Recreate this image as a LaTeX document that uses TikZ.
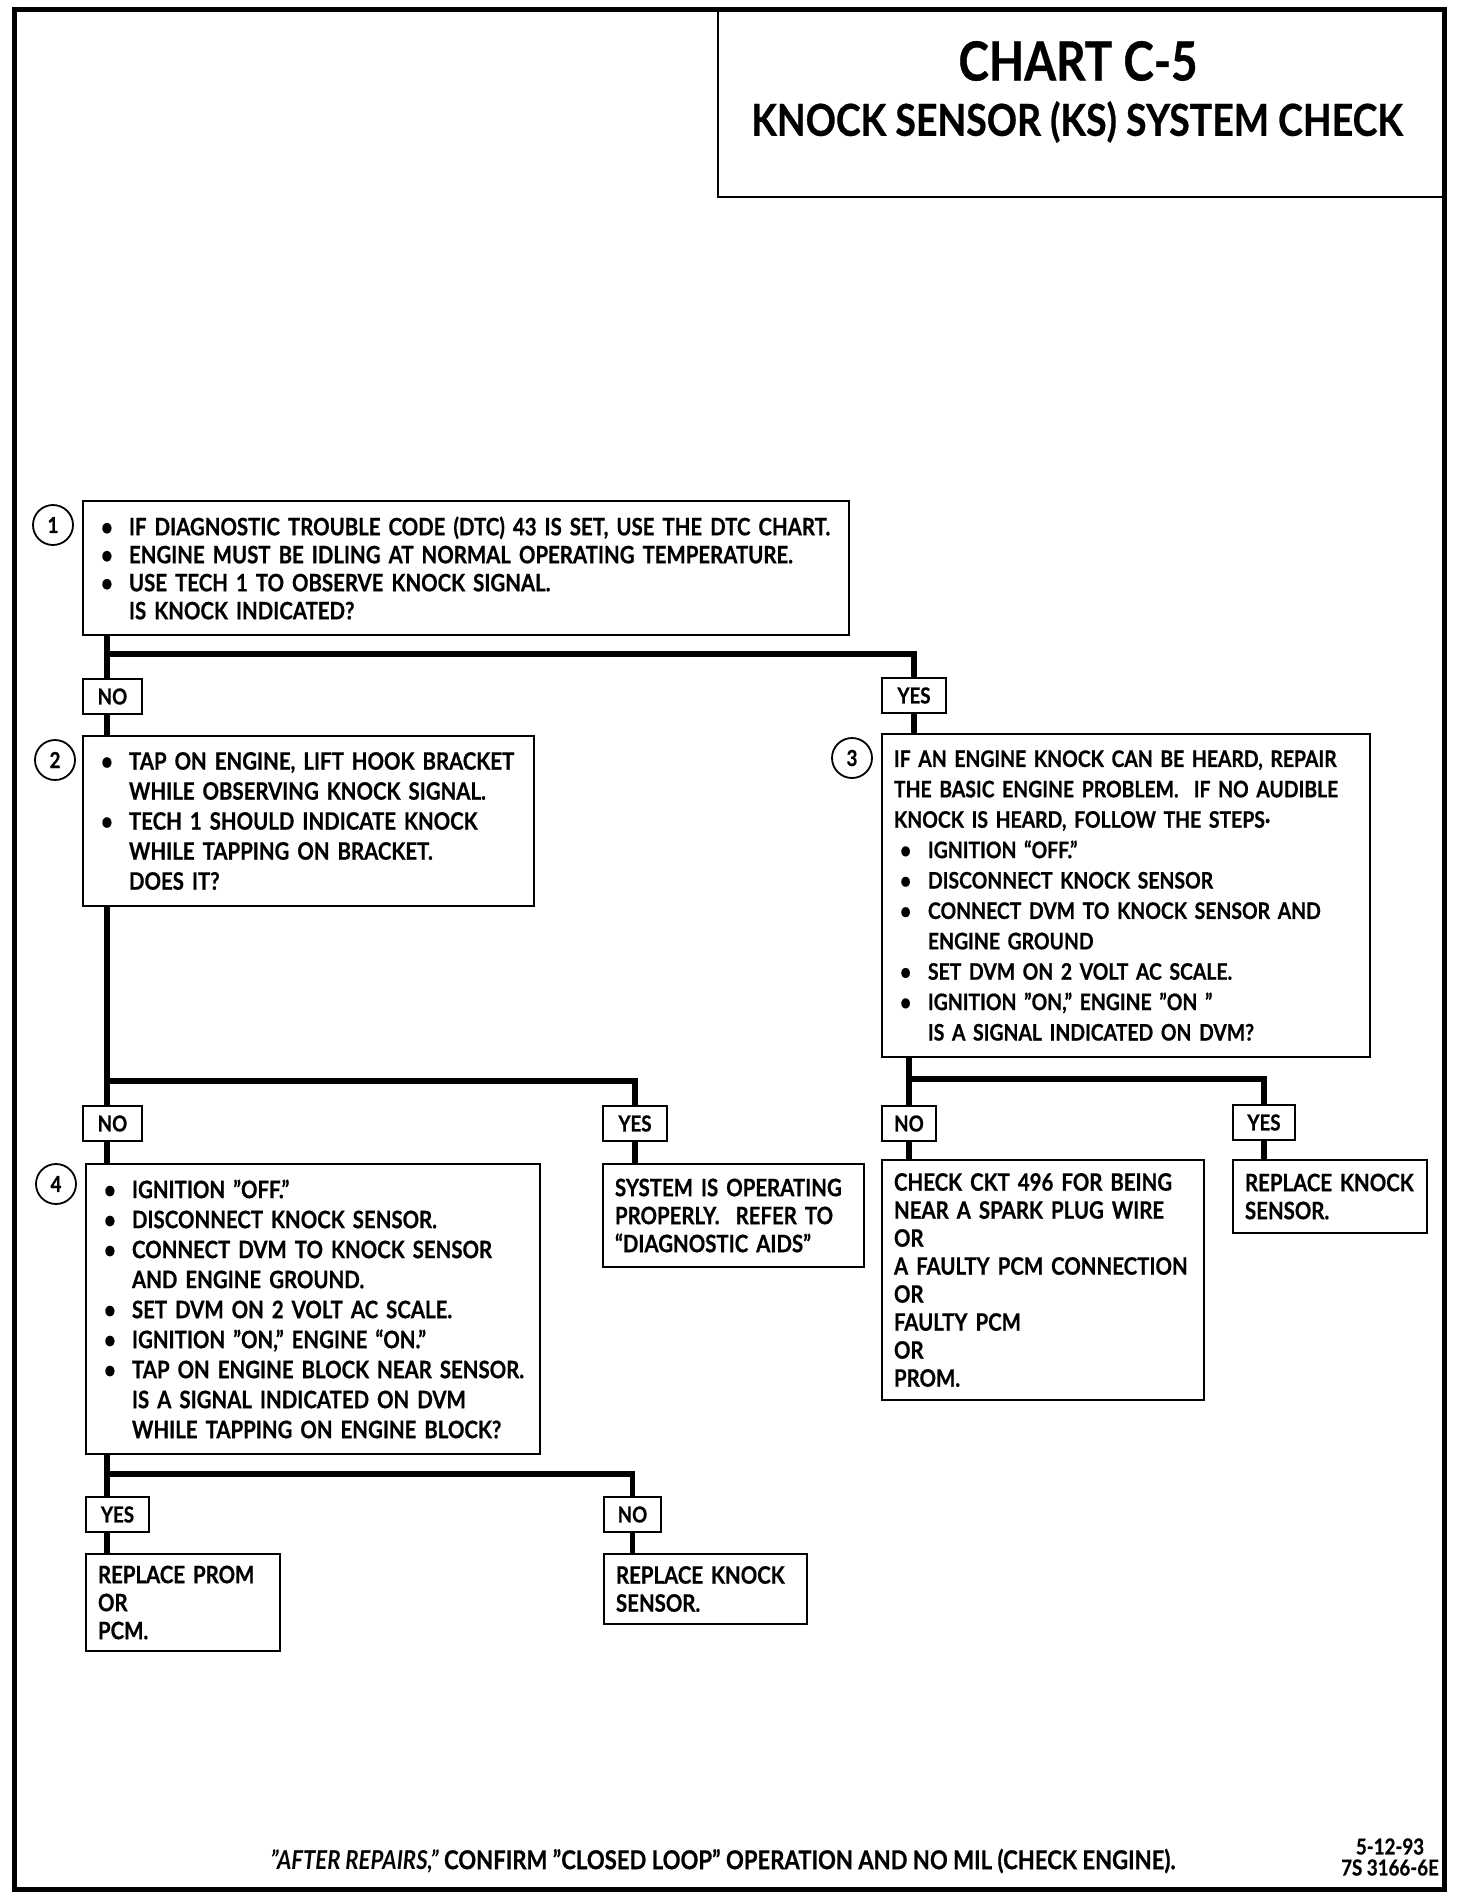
\documentclass[tikz,border=0pt]{standalone}
\usepackage{fontspec}
\setmainfont{Lato}[FakeStretch=0.85, BoldFeatures={FakeBold=0.6}]
\newcommand\bul{\makebox[17pt][l]{\hspace{3pt}\textbullet}}
\newcommand\ind{\hspace*{17pt}}
\newcommand\boxfont{\fontsize{12}{15}\selectfont\bfseries\hyphenpenalty=10000 }
\newcommand\tightfont{\fontsize{12}{14}\selectfont\bfseries\hyphenpenalty=10000 }
\newcommand\threefont{\fontsize{11.4}{15.2}\selectfont\bfseries\hyphenpenalty=10000 }
\tikzset{
  box/.style={draw, line width=1pt, anchor=north west, inner xsep=6pt, inner ysep=0pt, align=left, font=\boxfont},
  tbox/.style={box, font=\tightfont},
  lab/.style={draw, line width=1pt, anchor=north west, inner sep=0pt, minimum height=17.5pt, font=\fontsize{11}{12}\selectfont\bfseries},
  conn/.style={line width=2.8pt, line join=miter},
  num/.style={draw, circle, line width=0.9pt, minimum size=20pt, inner sep=0pt, font=\fontsize{11}{12}\selectfont\bfseries},
}
\begin{document}
\begin{tikzpicture}[x=0.5pt, y=-0.5pt]
\useasboundingbox (0,0) rectangle (1472,1900);
% outer frame
\draw[line width=2.5pt] (14,10) rectangle (1444,1889);
% title
\node[draw, line width=1.2pt, anchor=north west, minimum width=363.5pt, minimum height=93pt, inner sep=0pt] (tb) at (717,10) {};
\node[font=\fontsize{27}{30}\selectfont\bfseries] (t1) at (1078,61) {CHART C-5};
\node[font=\fontsize{22}{26}\selectfont\bfseries] (t2) at (1077,122) {KNOCK SENSOR (KS) SYSTEM CHECK};

% step 1
\node[box, font=\tightfont, text width=371pt, minimum height=67pt] (b1) at (82,500) {%
\bul IF DIAGNOSTIC TROUBLE CODE (DTC) 43 IS SET, USE THE DTC CHART.\\
\bul ENGINE MUST BE IDLING AT NORMAL OPERATING TEMPERATURE.\\
\bul USE TECH 1 TO OBSERVE KNOCK SIGNAL.\\
\ind IS KNOCK INDICATED?};
\node[num] (c1) at (53,525) {1};

\coordinate (j1) at (0,654);
\node[lab, minimum width=29.5pt] (no1) at (82,678) {NO};
\node[lab, minimum width=32pt] (yes1) at (881,677) {YES};

% step 2
\node[box, text width=213.5pt, minimum height=85pt] (b2) at (82,735) {%
\bul TAP ON ENGINE, LIFT HOOK BRACKET\\
\ind WHILE OBSERVING KNOCK SIGNAL.\\
\bul TECH 1 SHOULD INDICATE KNOCK\\
\ind WHILE TAPPING ON BRACKET.\\
\ind DOES IT?};
\node[num] (c2) at (55,760) {2};

% step 3
\node[box, font=\threefont, text width=232pt, minimum height=161.5pt] (b3) at (881,733) {%
IF AN ENGINE KNOCK CAN BE HEARD, REPAIR\\
THE BASIC ENGINE PROBLEM.\ \ IF NO AUDIBLE\\
KNOCK IS HEARD, FOLLOW THE STEPS·\\
\bul IGNITION “OFF.”\\
\bul DISCONNECT KNOCK SENSOR\\
\bul CONNECT DVM TO KNOCK SENSOR AND\\
\ind ENGINE GROUND\\
\bul SET DVM ON 2 VOLT AC SCALE.\\
\bul IGNITION "ON," ENGINE "ON "\\
\ind IS A SIGNAL INDICATED ON DVM?};
\node[num] (c3) at (852,758) {3};

\coordinate (j2) at (0,1081);
\coordinate (j3) at (0,1079);
\node[lab, minimum width=29.5pt] (no2) at (82,1105) {NO};
\node[lab, minimum width=32pt] (yes2) at (602,1105) {YES};
\node[lab, minimum width=27pt] (no3) at (881,1105) {NO};
\node[lab, minimum width=31pt] (yes3) at (1232,1104) {YES};

% step 4
\node[box, text width=215pt, minimum height=145pt] (b4) at (85,1163) {%
\bul IGNITION "OFF."\\
\bul DISCONNECT KNOCK SENSOR.\\
\bul CONNECT DVM TO KNOCK SENSOR\\
\ind AND ENGINE GROUND.\\
\bul SET DVM ON 2 VOLT AC SCALE.\\
\bul IGNITION "ON," ENGINE “ON."\\
\bul TAP ON ENGINE BLOCK NEAR SENSOR.\\
\ind IS A SIGNAL INDICATED ON DVM\\
\ind WHILE TAPPING ON ENGINE BLOCK?};
\node[num] (c4) at (56,1184) {4};

\node[tbox, text width=118.5pt, minimum height=51.5pt] (sys) at (602,1163) {%
SYSTEM IS OPERATING\\
PROPERLY.\ \ REFER TO\\
“DIAGNOSTIC AIDS”};

\node[tbox, text width=149pt, minimum height=120pt] (chk) at (881,1159) {%
CHECK CKT 496 FOR BEING\\
NEAR A SPARK PLUG WIRE\\
OR\\
A FAULTY PCM CONNECTION\\
OR\\
FAULTY PCM\\
OR\\
PROM.};

\node[tbox, text width=85pt, minimum height=36.5pt] (rk1) at (1232,1159) {%
REPLACE KNOCK\\
SENSOR.};

\coordinate (j4) at (0,1474);
\node[lab, minimum width=31.5pt] (yes4) at (85,1496) {YES};
\node[lab, minimum width=28.5pt] (no4) at (603,1496) {NO};

\node[tbox, text width=85pt, minimum height=48.5pt] (prom) at (85,1553) {%
REPLACE PROM\\
OR\\
PCM.};
\node[tbox, text width=89.5pt, minimum height=35pt] (rk2) at (603,1553) {%
REPLACE KNOCK\\
SENSOR.};

% connector attachment points of the left column
\coordinate (p1) at ([xshift=12.5pt]no1.north west);
\coordinate (q1) at ([xshift=12.5pt]no1.south west);
\coordinate (p2) at ([xshift=12.5pt]no2.north west);
\coordinate (q2) at ([xshift=12.5pt]no2.south west);
\coordinate (p4) at ([xshift=11pt]yes4.north west);
\coordinate (q4) at ([xshift=11pt]yes4.south west);

% connectors
\draw[conn] (p1 |- b1.south) -- (p1);
\draw[conn] (p1 |- j1) -| (yes1.north);
\draw[conn] (q1) -- (q1 |- b2.north);
\draw[conn] (yes1.south) -- (yes1.south |- b3.north);

\draw[conn] (p2 |- b2.south) -- (p2);
\draw[conn] (p2 |- j2) -| (yes2.north);
\draw[conn] (q2) -- (q2 |- b4.north);
\draw[conn] (yes2.south) -- (yes2.south |- sys.north);

\draw[conn] (no3.north |- b3.south) -- (no3.north);
\draw[conn] (no3.north |- j3) -| (yes3.north);
\draw[conn] (no3.south) -- (no3.south |- chk.north);
\draw[conn] (yes3.south) -- (yes3.south |- rk1.north);

\draw[conn] (p4 |- b4.south) -- (p4);
\draw[conn] (p4 |- j4) -| (no4.north);
\draw[conn] (q4) -- (q4 |- prom.north);
\draw[conn] (no4.south) -- (no4.south |- rk2.north);

% footer
\node[font=\fontsize{13}{15}\selectfont\bfseries] (ft) at (723,1861) {\textit{"AFTER REPAIRS,"} CONFIRM "CLOSED LOOP" OPERATION AND NO MIL (CHECK ENGINE).};
\node[align=center, inner sep=0pt, font=\fontsize{11}{10.5}\selectfont\bfseries] (dt) at (1390,1857) {5-12-93\\7S 3166-6E};
\end{tikzpicture}
\end{document}
